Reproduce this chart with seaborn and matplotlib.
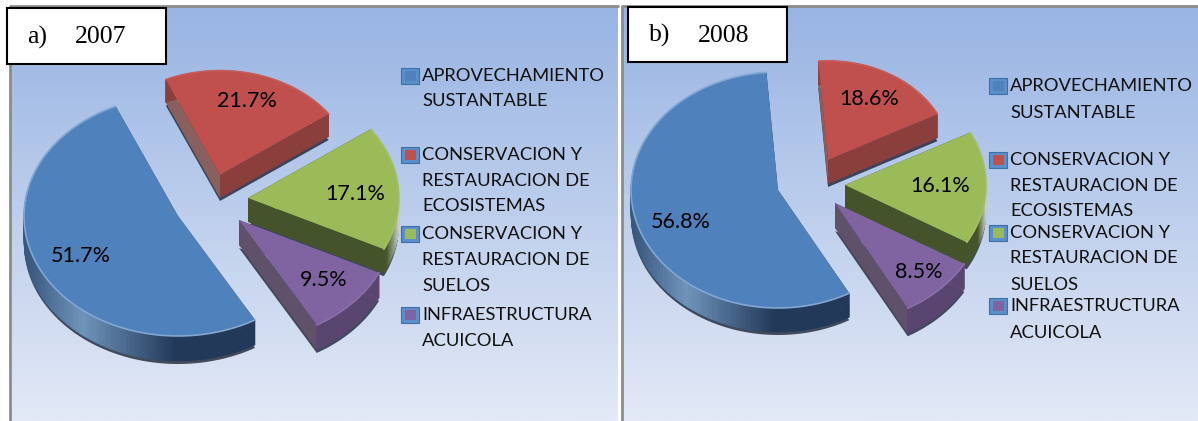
import numpy as np
import matplotlib
matplotlib.use("Agg")
import matplotlib.pyplot as plt
from matplotlib.patches import Polygon, Rectangle
import matplotlib.colors as mc
import seaborn as sns

categories = ["APROVECHAMIENTO\nSUSTANTABLE",
              "CONSERVACION Y\nRESTAURACION DE\nECOSISTEMAS",
              "CONSERVACION Y\nRESTAURACION DE\nSUELOS",
              "INFRAESTRUCTURA\nACUICOLA"]
values_2007 = [51.7, 21.7, 17.1, 9.5]
values_2008 = [56.8, 18.6, 16.1, 8.5]
titles = [("a)", "2007"), ("b)", "2008")]

W, H = 1198, 421
sns.set_theme(style="white")
plt.rcParams["font.family"] = ["Lato", "DejaVu Sans"]
colors = sns.color_palette(["#4f81bd", "#c0504d", "#9bbb59", "#8064a2"])
arc_dark = ["#2a4465", "#8a3f3d", "#46562a", "#5a4570"]
radial_t1 = ["#2a4465", "#8a3f3d", "#45532b", "#5f5169"]
radial_t2 = ["#2a4465", "#8a605e", "#45532b", "#5f5169"]

panels = [
    dict(values=values_2007, start=300, rx=154, ry=120,
         apex=[(178, 216), (220, 175), (248, 198), (239, 220)],
         radii=[1.0, .87, .98, 1.01], depth=[25, 23, 24, 25],
         lab=[(81, 256), (247, 101), (355, 194), (324, 280)],
         bg=(10, 618), box=(7, 8, 166, 64), tx=(27, 75),
         legx=(401, 422),
         legy=[[76, 101], [155, 181, 206], [234, 260, 286], [315, 341]]),
    dict(values=values_2008, start=299, rx=147, ry=118,
         apex=[(778, 190), (828, 160), (845, 185), (835, 203)],
         radii=[1.0, .84, .96, 1.02], depth=[24, 24, 24, 25],
         lab=[(681, 222), (869, 99), (940, 186), (919, 272)],
         bg=(622, 1198), box=(628, 7, 787, 62), tx=(649, 698),
         legx=(989, 1010),
         legy=[[86, 113], [160, 186, 211], [233, 258, 285], [306, 333]]),
]

fig = plt.figure(figsize=(W / 100, H / 100), dpi=100)
bg = fig.add_axes([0, 0, 1, 1])
bg.set_xlim(0, W)
bg.set_ylim(H, 0)
bg.axis("off")

grad = np.linspace(0, 1, 256)[:, None, None]
top = np.array(mc.to_rgb("#98b4e3"))
bot = np.array(mc.to_rgb("#e3e9f6"))
img = top + (bot - top) * grad

for p in panels:
    x0, x1 = p["bg"]
    bg.imshow(img, extent=(x0, x1, H, 6), aspect="auto", zorder=0)
    bg.plot([x0, x0, x1], [H, 6, 6], color="#8c8c8c", lw=2, zorder=1)
    bx0, by0, bx1, by1 = p["box"]
    bg.add_patch(Rectangle((bx0, by0), bx1 - bx0, by1 - by0, fc="white", ec="black", lw=1.5, zorder=6))
bg.set_xlim(0, W)
bg.set_ylim(H, 0)


def lerp(c1, c2, t):
    a, b = np.array(mc.to_rgb(c1)), np.array(mc.to_rgb(c2))
    return tuple(a + (b - a) * float(np.clip(t, 0, 1)))


for i, p in enumerate(panels):
    rx, ry = p["rx"], p["ry"]
    ax = fig.add_axes([0, 0, 1, 1])
    ax.patch.set_alpha(0)
    wedges, _ = ax.pie(p["values"], startangle=p["start"], counterclock=False, colors=colors,
                       wedgeprops=dict(linewidth=0, zorder=3))
    ax.set_aspect("auto")
    ax.set_xlim(0, W / rx)
    ax.set_ylim(0, H / ry)
    ax.axis("off")
    for k, w in enumerate(wedges):
        px, py = p["apex"][k]
        c = (px / rx, (H - py) / ry)
        r = p["radii"][k]
        w.set_center(c)
        w.set_radius(r)
        d = p["depth"][k] / ry
        t1, t2 = w.theta1, w.theta2
        th = np.radians(np.arange(t1, t2 + 1.01, 1.0))
        th = np.clip(th, None, np.radians(t2))
        xs = c[0] + r * np.cos(th)
        ys = c[1] + r * np.sin(th)
        # drop shadow under the extruded body
        sh = 3 / ry
        outline = np.column_stack([np.r_[c[0], xs], np.r_[c[1], ys] - d - sh])
        ax.add_patch(Polygon(outline, fc="#10182a", alpha=.75, lw=0, zorder=1))
        # radial side faces
        for (ex, ey), fc in [((xs[0], ys[0]), radial_t1[k]), ((xs[-1], ys[-1]), radial_t2[k])]:
            q = [(c[0], c[1]), (ex, ey), (ex, ey - d), (c[0], c[1] - d)]
            ax.add_patch(Polygon(q, fc=fc, lw=0, zorder=1.5))
        # curved side face, shaded strip by strip
        xmin, xmax = xs.min(), xs.max()
        for j in range(len(th) - 1):
            f = (xs[j] - xmin) / max(xmax - xmin, 1e-6)
            if k == 0:
                if f < .25:
                    col = lerp("#35567d", "#7096bd", f / .25)
                else:
                    col = lerp("#7096bd", "#22395a", (f - .25) / .4)
            elif k == 2:
                col = lerp("#46562a", "#c9cfc4", (f - .55) / .45)
            else:
                col = arc_dark[k]
            q = [(xs[j], ys[j]), (xs[j + 1], ys[j + 1]), (xs[j + 1], ys[j + 1] - d), (xs[j], ys[j] - d)]
            ax.add_patch(Polygon(q, fc=col, ec=col, lw=.4, zorder=2))
        # bevel highlight along the rim
        rim = lerp(colors[k], "#ffffff", .3 if k == 0 else .08)
        ax.plot(xs, ys, color=rim, lw=1.2, zorder=4, solid_capstyle="round")

    for k, v in enumerate(p["values"]):
        lx, ly = p["lab"][k]
        fig.text(lx / W, 1 - ly / H, f"{v:.1f}%", ha="center", va="center",
                 fontsize=15.5, color="black", zorder=8)

    lx0, tx = p["legx"]
    for k, name in enumerate(categories):
        for line, ly in zip(name.split("\n"), p["legy"][k]):
            fig.text(tx / W, 1 - ly / H, line, ha="left", va="center", fontsize=13.2,
                     color="#101010", zorder=8)
        my = p["legy"][k][0]
        bg.add_patch(Rectangle((lx0, my - 8), 18, 16, fc="#5b8fc9", ec="#3f6fa8", lw=.8, zorder=5))
        bg.add_patch(Rectangle((lx0 + 3.5, my - 5), 11, 10, fc=colors[k], ec="none", zorder=5.5))

    b0 = p["box"]
    ty = (b0[1] + b0[3]) / 2 + 1
    fig.text(p["tx"][0] / W, 1 - ty / H, titles[i][0], family="Liberation Serif", fontsize=18.5,
             va="center", ha="left", color="black", zorder=9)
    fig.text(p["tx"][1] / W, 1 - ty / H, titles[i][1], family="Liberation Serif", fontsize=18.5,
             va="center", ha="left", color="black", zorder=9)

fig.savefig("out.png", dpi=100, facecolor="white")
